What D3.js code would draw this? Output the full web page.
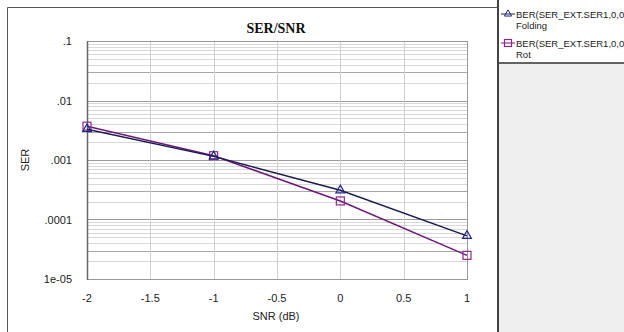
<!DOCTYPE html>
<html>
<head>
<meta charset="utf-8">
<script src="https://cdn.jsdelivr.net/npm/d3@7"></script>
<style>
  body { margin: 0; background: #fff; }
  svg { display: block; font-family: Arial, "Liberation Sans", sans-serif; }
</style>
</head>
<body>
<svg id="chart" width="624" height="332"></svg>
<script>
const snr = [-2, -1, 0, 1];
const serFolding = [0.0033, 0.00115, 0.00031, 0.000053];
const serRot = [0.0037, 0.00118, 0.000205, 0.000025];
const xTicks = [-2, -1.5, -1, -0.5, 0, 0.5, 1];
const yTicks = [0.1, 0.01, 0.001, 0.0001, 0.00001];
const yTickLabels = [".1", ".01", ".001", ".0001", "1e-05"];
const legendNames = [["BER(SER_EXT.SER1,0,0", "Folding"], ["BER(SER_EXT.SER1,0,0", "Rot"]];

const svg = d3.select("#chart");
const margin = { left: 87, right: 467, top: 41, bottom: 279 };

const x = d3.scaleLinear().domain([-2, 1]).range([margin.left, margin.right]);
const y = d3.scaleLog().domain([1e-5, 0.1]).range([margin.bottom, margin.top]);

// outer frame + legend panel
svg.append("rect").attr("x", 0).attr("y", 0).attr("width", 624).attr("height", 332).attr("fill", "#fff");
svg.append("rect").attr("x", 499).attr("y", 63).attr("width", 125).attr("height", 269).attr("fill", "#efefef");
svg.append("line").attr("x1", 499).attr("x2", 624).attr("y1", 63).attr("y2", 63).attr("stroke", "#333").attr("stroke-width", 1.5);
svg.append("line").attr("x1", 498).attr("x2", 498).attr("y1", 0).attr("y2", 332).attr("stroke", "#444").attr("stroke-width", 2);
svg.append("path").attr("d", "M7.5,332V7.5H497").attr("fill", "none").attr("stroke", "#555").attr("stroke-width", 1);

// grid
const minorVals = [];
for (let e = -5; e < -1; e++) {
    for (let m = 2; m <= 9; m++) minorVals.push(m * Math.pow(10, e));
}
const g = svg.append("g");
g.selectAll(".minor").data(minorVals).enter().append("line")
    .attr("x1", margin.left).attr("x2", margin.right)
    .attr("y1", d => Math.round(y(d)) + 0.5).attr("y2", d => Math.round(y(d)) + 0.5)
    .attr("stroke", d => Math.round(d / Math.pow(10, Math.floor(Math.log10(d) + 1e-9))) === 3 ? "#a8a8a8" : "#d8d8d8")
    .attr("stroke-width", 1);
g.selectAll(".major").data(yTicks).enter().append("line")
    .attr("x1", margin.left).attr("x2", margin.right)
    .attr("y1", d => Math.round(y(d)) + 0.5).attr("y2", d => Math.round(y(d)) + 0.5)
    .attr("stroke", "#9a9a9a");
g.selectAll(".vgrid").data(xTicks).enter().append("line")
    .attr("x1", d => Math.round(x(d)) + 0.5).attr("x2", d => Math.round(x(d)) + 0.5)
    .attr("y1", margin.top).attr("y2", margin.bottom)
    .attr("stroke", "#d0d0d0");

// plot border
svg.append("rect").attr("x", margin.left + 0.5).attr("y", margin.top + 0.5)
    .attr("width", margin.right - margin.left).attr("height", margin.bottom - margin.top)
    .attr("fill", "none").attr("stroke", "#999");
svg.append("line").attr("x1", margin.left + 0.5).attr("x2", margin.left + 0.5)
    .attr("y1", margin.top).attr("y2", margin.bottom + 1).attr("stroke", "#666").attr("stroke-width", 1.5);

// axes labels
svg.selectAll(".ylab").data(yTicks).enter().append("text")
    .attr("x", 72).attr("y", d => y(d) + 4)
    .attr("text-anchor", "end").attr("font-size", 11).attr("fill", "#222")
    .text((d, i) => yTickLabels[i]);
svg.selectAll(".xlab").data(xTicks).enter().append("text")
    .attr("x", d => x(d)).attr("y", 302)
    .attr("text-anchor", "middle").attr("font-size", 11).attr("fill", "#222")
    .text(d => String(d));

svg.append("text").attr("x", 276).attr("y", 320).attr("text-anchor", "middle")
    .attr("font-size", 11).attr("fill", "#222").text("SNR (dB)");
svg.append("text").attr("transform", "translate(29,160) rotate(-90)").attr("text-anchor", "middle")
    .attr("font-size", 11).attr("fill", "#222").text("SER");
svg.append("text").attr("x", 276).attr("y", 33).attr("text-anchor", "middle")
    .attr("font-family", "'Liberation Serif', 'Times New Roman', serif").attr("font-weight", "bold")
    .attr("font-size", 14).attr("fill", "#111").text("SER/SNR");

// series
const series = [
    { values: serFolding, line: "#1a1a4e", marker: "#23238a", shape: "tri" },
    { values: serRot, line: "#6e1a78", marker: "#8a2a8a", shape: "sq" }
];
const line = d3.line().x(d => x(d[0])).y(d => y(d[1]));

function marker(sel, shape, color) {
    if (shape === "tri") {
        sel.append("path").attr("d", d3.symbol(d3.symbolTriangle, 34)).attr("fill", "none")
            .attr("stroke", color).attr("stroke-width", 1.2);
    } else {
        sel.append("rect").attr("x", -4).attr("y", -4).attr("width", 8).attr("height", 8)
            .attr("fill", "none").attr("stroke", color).attr("stroke-width", 1.2);
    }
}

[series[1], series[0]].forEach(s => {
    const pts = snr.map((v, i) => [v, s.values[i]]);
    svg.append("path").datum(pts).attr("d", line).attr("fill", "none")
        .attr("stroke", s.line).attr("stroke-width", 1.5);
    svg.selectAll(null).data(pts).enter().append("g")
        .attr("transform", d => `translate(${x(d[0])},${y(d[1])})`)
        .each(function () { marker(d3.select(this), s.shape, s.marker); });
});

// legend
series.forEach((s, i) => {
    const ly = 14 + i * 29;
    svg.append("line").attr("x1", 501).attr("x2", 515).attr("y1", ly).attr("y2", ly)
        .attr("stroke", s.line).attr("stroke-width", 1);
    const mg = svg.append("g").attr("transform", `translate(508,${ly})`);
    if (s.shape === "tri") {
        mg.append("path").attr("d", d3.symbol(d3.symbolTriangle, 22)).attr("fill", "none")
            .attr("stroke", s.marker).attr("stroke-width", 1);
    } else {
        mg.append("rect").attr("x", -3.5).attr("y", -3.5).attr("width", 7).attr("height", 7)
            .attr("fill", "none").attr("stroke", s.marker).attr("stroke-width", 1.2);
    }
    svg.append("text").attr("x", 516).attr("y", ly + 3.5).attr("font-size", 9.5).attr("fill", "#222")
        .text(legendNames[i][0]);
    svg.append("text").attr("x", 516).attr("y", ly + 15).attr("font-size", 9.5).attr("fill", "#222")
        .text(legendNames[i][1]);
});
</script>
</body>
</html>
